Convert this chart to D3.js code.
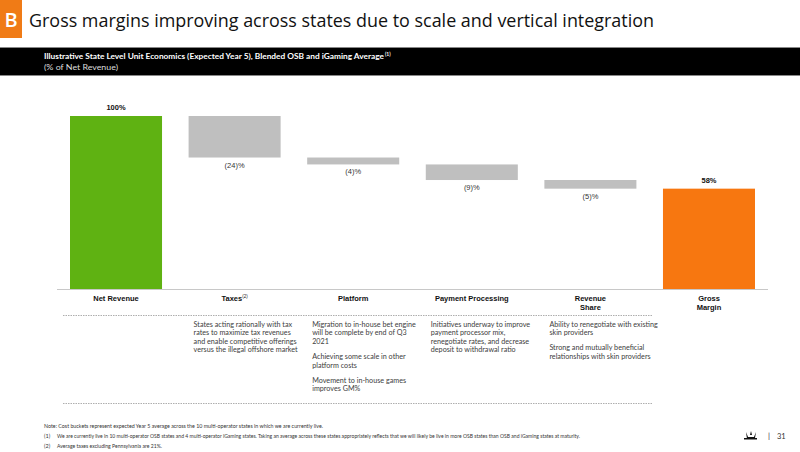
<!DOCTYPE html>
<html><head><meta charset="utf-8">
<script src="https://cdn.jsdelivr.net/npm/d3@7/dist/d3.min.js"></script>
<style>body{margin:0;background:#fff}svg{display:block}</style>
</head><body>
<svg id="c" width="800" height="452"></svg>
<script>
const categories = ["Net Revenue", "Taxes", "Platform", "Payment Processing", "Revenue\nShare", "Gross\nMargin"];
const values = [100, -24, -4, -9, -5, 58];
const kinds = ["total", "delta", "delta", "delta", "delta", "total"];
const valueLabels = ["100%", "(24)%", "(4)%", "(9)%", "(5)%", "58%"];
const superscripts = ["", "(2)", "", "", "", ""];
const descriptions = [
  [],
  [["States acting rationally with tax", "rates to maximize tax revenues", "and enable competitive offerings", "versus the illegal offshore market"]],
  [["Migration to in-house bet engine", "will be complete by end of Q3", "2021"], ["Achieving some scale in other", "platform costs"], ["Movement to in-house games", "improves GM%"]],
  [["Initiatives underway to improve", "payment processor mix,", "renegotiate rates, and decrease", "deposit to withdrawal ratio"]],
  [["Ability to renegotiate with existing", "skin providers"], ["Strong and mutually beneficial", "relationships with skin providers"]],
  []
];
const title = "Gross margins improving across states due to scale and vertical integration";
const subtitle = "Illustrative State Level Unit Economics (Expected Year 5), Blended OSB and iGaming Average";
const subtitle2 = "(% of Net Revenue)";
const notes = [
  ["", "Note: Cost buckets represent expected Year 5 average across the 10 multi-operator states in which we are currently live."],
  ["(1)", "We are currently live in 10 multi-operator OSB states and 4 multi-operator iGaming states. Taking an average across these states appropriately reflects that we will likely be live in more OSB states than OSB and iGaming states at maturity."],
  ["(2)", "Average taxes excluding Pennsylvania are 21%."]
];
const colors = {first: "#5fb212", last: "#f77710", delta: "#bfbfbf"};

const svg = d3.select("#c");
const font = "Arial, 'Liberation Sans', sans-serif";
const cal = "Lato, 'Open Sans', sans-serif";

// Header
svg.append("rect").attr("x", 0).attr("y", 0).attr("width", 22).attr("height", 38).attr("fill", "#f07b16");
svg.append("text").attr("x", 11).attr("y", 27).attr("text-anchor", "middle").attr("fill", "#fff")
  .attr("font-family", "'Open Sans', sans-serif").attr("font-size", 20).attr("font-weight", 600).text("B");
svg.append("text").attr("x", 29).attr("y", 27).attr("fill", "#111").attr("font-family", "'Open Sans', sans-serif")
  .attr("font-size", 19).attr("textLength", 625).attr("lengthAdjust", "spacingAndGlyphs").text(title);
svg.append("rect").attr("x", 0).attr("y", 47).attr("width", 800).attr("height", 29).attr("fill", "#000");
svg.append("line").attr("x1", 0).attr("x2", 800).attr("y1", 47.5).attr("y2", 47.5).attr("stroke", "#888");
svg.append("line").attr("x1", 0).attr("x2", 800).attr("y1", 75.5).attr("y2", 75.5).attr("stroke", "#888");
svg.append("text").attr("x", 44).attr("y", 59).attr("fill", "#fff").attr("font-family", cal)
  .attr("font-size", 8).attr("font-weight", 700).attr("textLength", 340).attr("lengthAdjust", "spacingAndGlyphs").text(subtitle);
svg.append("text").attr("x", 385).attr("y", 56).attr("fill", "#fff").attr("font-family", cal)
  .attr("font-size", 5).attr("font-weight", 700).text("(1)");
svg.append("text").attr("x", 44).attr("y", 70).attr("fill", "#ddd").attr("font-family", cal)
  .attr("font-size", 8).attr("textLength", 74).attr("lengthAdjust", "spacingAndGlyphs").text(subtitle2);

// Waterfall computations
let run = 0;
const bars = values.map((v, i) => {
  let y0, y1;
  if (kinds[i] === "total") { y0 = 0; y1 = v; run = v; }
  else { y1 = run; y0 = run + v; run = y0; }
  return {i, v, y0, y1};
});

const x = d3.scaleBand().domain(d3.range(categories.length)).range([70, 755]).paddingInner(0.224).paddingOuter(0);
const bw = x.bandwidth();
const y = d3.scaleLinear().domain([0, 100]).range([289, 116]);

svg.append("g").selectAll("rect").data(bars).join("rect")
  .attr("x", d => x(d.i)).attr("width", bw)
  .attr("y", d => y(d.y1)).attr("height", d => y(d.y0) - y(d.y1))
  .attr("fill", d => d.i === 0 ? colors.first : (d.i === categories.length - 1 ? colors.last : colors.delta));

svg.append("line").attr("x1", 57).attr("x2", 768).attr("y1", 289.5).attr("y2", 289.5).attr("stroke", "#c8c8c8").attr("stroke-width", 1.2);

// value labels
svg.append("g").selectAll("text").data(bars).join("text")
  .attr("x", d => x(d.i) + bw / 2)
  .attr("y", d => kinds[d.i] === "total" ? y(d.y1) - 6 : y(d.y0) + 10)
  .attr("text-anchor", "middle").attr("font-family", font).attr("font-size", 7.5)
  .attr("font-weight", d => kinds[d.i] === "total" ? 700 : 400)
  .attr("fill", d => kinds[d.i] === "total" ? "#111" : "#333")
  .text(d => valueLabels[d.i]);

// category labels
categories.forEach((c, i) => {
  const lines = c.split("\n");
  const t = svg.append("text").attr("x", x(i) + bw / 2).attr("y", 301).attr("text-anchor", "middle")
    .attr("font-family", font).attr("font-size", 7.5).attr("font-weight", 700).attr("fill", "#111");
  lines.forEach((l, k) => {
    t.append("tspan").attr("x", x(i) + bw / 2).attr("dy", k === 0 ? 0 : 8.5).text(l);
  });
  if (superscripts[i]) t.append("tspan").attr("font-size", 4.5).attr("font-weight", 400).attr("dy", -3).text(superscripts[i]);
});

// dashed separators
[315, 403].forEach(yy => svg.append("line").attr("x1", 63).attr("x2", 652).attr("y1", yy + 0.5).attr("y2", yy + 0.5)
  .attr("stroke", "#999").attr("stroke-width", 0.8).attr("stroke-dasharray", "1.5,1"));

// descriptions
descriptions.forEach((paras, i) => {
  let yy = 326.5;
  paras.forEach(p => {
    p.forEach(l => {
      svg.append("text").attr("x", x(i) + 5).attr("y", yy).attr("font-family", cal).attr("font-size", 7.2)
        .attr("fill", "#404040").text(l);
      yy += 8.6;
    });
    yy += 6.6;
  });
});

// notes
const noteW = [279, 523, 105];
notes.forEach((n, k) => {
  const yy = [428, 438, 448][k];
  if (n[0]) svg.append("text").attr("x", 44).attr("y", yy).attr("font-family", cal).attr("font-size", 5.5).attr("fill", "#333").text(n[0]);
  svg.append("text").attr("x", n[0] ? 57 : 44).attr("y", yy).attr("font-family", cal).attr("font-size", 5.5)
    .attr("textLength", noteW[k]).attr("lengthAdjust", "spacingAndGlyphs").attr("fill", "#333").text(n[1]);
});

// page number + logo
const lg = svg.append("g").attr("transform", "translate(751,437)");
lg.append("path").attr("d", "M-5,-5 L-3,0 L3,0 L5,-5 L4,1 L-4,2 Z M-7,1 L6,1 L6,2.5 L-7,2.5 Z M0,-6 L1,-2 L-1,-2 Z")
  .attr("fill", "#111");
svg.append("text").attr("x", 768).attr("y", 439).attr("font-family", cal).attr("font-size", 8).attr("fill", "#333").text("|");
svg.append("text").attr("x", 777).attr("y", 439).attr("font-family", cal).attr("font-size", 7.5).attr("fill", "#333").text("31");
</script>
</body></html>
